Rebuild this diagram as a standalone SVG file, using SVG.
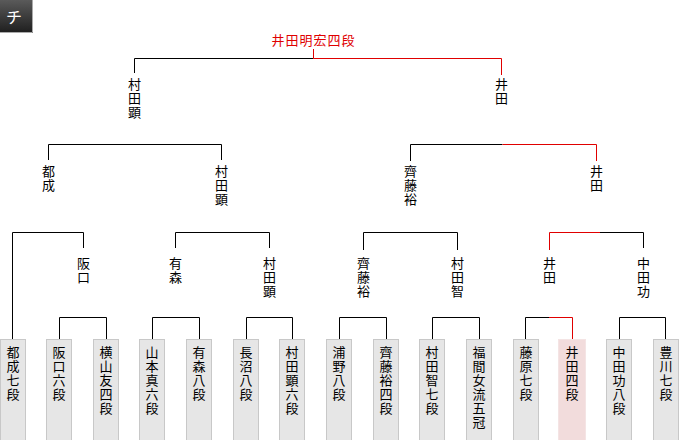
<svg xmlns="http://www.w3.org/2000/svg" width="680" height="440" viewBox="0 0 680 440">
<defs>
<linearGradient id="bg" x1="0" y1="0" x2="0" y2="1">
<stop offset="0" stop-color="#5a5a5a"/>
<stop offset="1" stop-color="#1e1e1e"/>
</linearGradient>
</defs>
<style>
.t{font-family:"Noto Sans CJK JP","Noto Sans CJK SC",sans-serif;font-size:13px;fill:#000;text-anchor:middle}
.v{font-family:"Noto Sans CJK JP","Noto Sans CJK SC",sans-serif;font-size:13px;fill:#000;writing-mode:vertical-rl;text-orientation:upright;letter-spacing:1px;text-anchor:start}
.r{fill:#e00000;letter-spacing:1px}
.box{fill:#e6e6e6;stroke:#c8c8c8;stroke-width:1}
.win{fill:#f2dcdc;stroke:#f4e4e4;stroke-width:1}
.k{fill:none;stroke:#000;stroke-width:1}
.red{fill:none;stroke:#e00000;stroke-width:1}
</style>
<rect width="680" height="440" fill="#fff"/>
<g id="badge">
<rect x="0" y="0" width="33" height="33" fill="url(#bg)"/>
<path d="M32.5 0V32.5H0" fill="none" stroke="#aaa"/>
<text x="14" y="23" style="font-family:'Noto Sans CJK JP',sans-serif;font-size:16px;fill:#fff;text-anchor:middle">チ</text>
</g>
<g id="connectors">
<path class="k" d="M59.5 339V317.5H106.5V339"/>
<path class="k" d="M152.5 339V317.5H199.5V339"/>
<path class="k" d="M246.5 339V317.5H292.5V339"/>
<path class="k" d="M339.5 339V317.5H386.5V339"/>
<path class="k" d="M432.5 339V317.5H479.5V339"/>
<path class="k" d="M525.5 339V317.5H549"/>
<path class="red" d="M549 317.5H572.5V339"/>
<path class="k" d="M619.5 339V317.5H665.5V339"/>
<path class="k" d="M12.5 339V232.5H83.5V248"/>
<path class="k" d="M175.5 248V232.5H269.5V248"/>
<path class="k" d="M363.5 250V232.5H457.5V250"/>
<path class="red" d="M549.5 250V232.5H600"/>
<path class="k" d="M600 232.5H643.5V248"/>
<path class="k" d="M48.5 160V144.5H221.5V160"/>
<path class="k" d="M410.5 161V144.5H502.5"/>
<path class="red" d="M502.5 144.5H596.5V161"/>
<path class="k" d="M134.5 73V58.5H313.5"/>
<path class="red" d="M313.5 49V58.5H501.5V75"/>
</g>
<g id="champion"><text class="t r" x="313.5" y="45">井田明宏四段</text></g>
<g id="r3-murata"><text class="v" x="134.5" y="78">村田顕</text></g>
<g id="r3-ida"><text class="v" x="501.5" y="78">井田</text></g>
<g id="r2-tonari"><text class="v" x="48.5" y="165">都成</text></g>
<g id="r2-murata"><text class="v" x="221.5" y="165">村田顕</text></g>
<g id="r2-saito"><text class="v" x="410.5" y="165">齊藤裕</text></g>
<g id="r2-ida"><text class="v" x="596.5" y="165">井田</text></g>
<g id="r1-sakaguchi"><text class="v" x="83.5" y="257">阪口</text></g>
<g id="r1-arimori"><text class="v" x="175.5" y="257">有森</text></g>
<g id="r1-murata"><text class="v" x="269.5" y="257">村田顕</text></g>
<g id="r1-saito"><text class="v" x="363.5" y="257">齊藤裕</text></g>
<g id="r1-muratatomo"><text class="v" x="457.5" y="257">村田智</text></g>
<g id="r1-ida"><text class="v" x="549.5" y="257">井田</text></g>
<g id="r1-nakata"><text class="v" x="643.5" y="257">中田功</text></g>
<g id="p1"><rect class="box" x="0.5" y="339.5" width="25" height="101"/><text class="v" x="13" y="346">都成七段</text></g>
<g id="p2"><rect class="box" x="46.5" y="339.5" width="25" height="101"/><text class="v" x="59" y="346">阪口六段</text></g>
<g id="p3"><rect class="box" x="93.5" y="339.5" width="25" height="101"/><text class="v" x="106" y="346">横山友四段</text></g>
<g id="p4"><rect class="box" x="139.5" y="339.5" width="25" height="101"/><text class="v" x="152" y="346">山本真六段</text></g>
<g id="p5"><rect class="box" x="186.5" y="339.5" width="25" height="101"/><text class="v" x="199" y="346">有森八段</text></g>
<g id="p6"><rect class="box" x="233.5" y="339.5" width="25" height="101"/><text class="v" x="246" y="346">長沼八段</text></g>
<g id="p7"><rect class="box" x="279.5" y="339.5" width="25" height="101"/><text class="v" x="292" y="346">村田顕六段</text></g>
<g id="p8"><rect class="box" x="326.5" y="339.5" width="25" height="101"/><text class="v" x="339" y="346">浦野八段</text></g>
<g id="p9"><rect class="box" x="373.5" y="339.5" width="25" height="101"/><text class="v" x="386" y="346">齊藤裕四段</text></g>
<g id="p10"><rect class="box" x="419.5" y="339.5" width="25" height="101"/><text class="v" x="432" y="346">村田智七段</text></g>
<g id="p11"><rect class="box" x="466.5" y="339.5" width="25" height="101"/><text class="v" x="479" y="346">福間女流五冠</text></g>
<g id="p12"><rect class="box" x="513.5" y="339.5" width="25" height="101"/><text class="v" x="526" y="346">藤原七段</text></g>
<g id="p13"><rect class="win" x="558.5" y="339.5" width="27" height="101"/><text class="v" x="572" y="346">井田四段</text></g>
<g id="p14"><rect class="box" x="606.5" y="339.5" width="25" height="101"/><text class="v" x="619" y="346">中田功八段</text></g>
<g id="p15"><rect class="box" x="653.5" y="339.5" width="25" height="101"/><text class="v" x="666" y="346">豊川七段</text></g>
</svg>
